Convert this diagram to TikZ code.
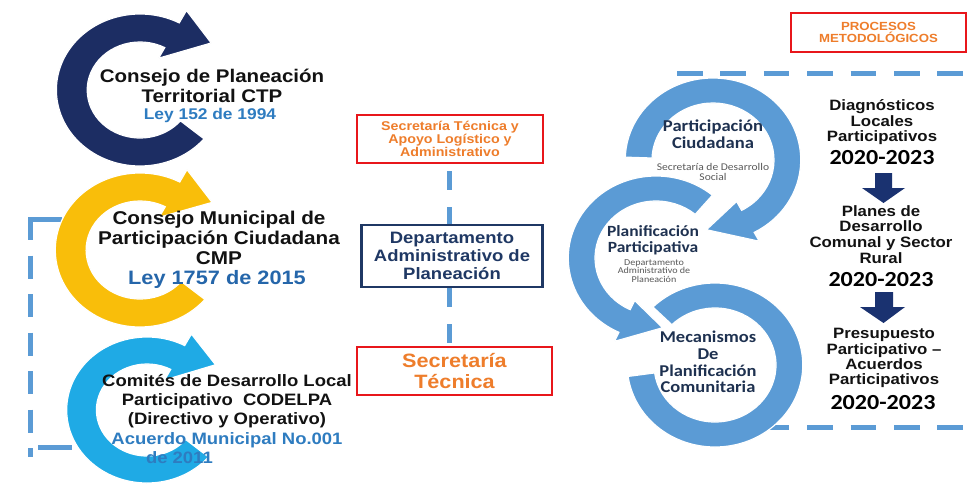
\documentclass[tikz,border=0pt]{standalone}
\usepackage{fontspec}
\setmainfont{Liberation Sans}
\newfontfamily\carl{Carlito}
\definecolor{navyc}{HTML}{1C2D63}
\definecolor{yelc}{HTML}{F9BE0A}
\definecolor{lbluc}{HTML}{1FAAE5}
\definecolor{ringc}{HTML}{5B9BD5}
\definecolor{redc}{HTML}{E8161B}
\definecolor{orc}{HTML}{EE7D2B}
\definecolor{dashc}{HTML}{5B9BD5}
\definecolor{arrc}{HTML}{1A3270}
\definecolor{lawc}{HTML}{2E7CC0}
\definecolor{lawd}{HTML}{2566AA}
\definecolor{deptc}{HTML}{1F3864}
\definecolor{ringtxt}{HTML}{1E3150}
\definecolor{graytxt}{HTML}{595959}
\newcommand\fs[2]{\fontsize{#1}{#2}\selectfont}
% #1 colour, #2 start angle, #3 arrow-base angle, #4 outer r, #5 inner r, #6 outer wing, #7 inner wing, #8 tip
\newcommand\carrow[8]{%
  \fill[#1, draw=white, line width=1.2pt] (#2:#4) arc[start angle=#2, end angle=#3, radius=#4]
    -- (#3:#6) -- (#8) -- (#3:#7) -- (#3:#5) arc[start angle=#3, end angle=#2, radius=#5] -- cycle;}
\begin{document}
\begin{tikzpicture}[x=1pt,y=-1pt,
  txt/.style={xscale=1.12, inner sep=0pt, align=center},
  bt/.style={txt, text=black!93},
  rbox/.style={xscale=1.12, draw=redc, line width=2.5pt, fill=white, inner sep=0pt, align=center, text=orc},
  dline/.style={dashc, line width=5pt}]
\fill[white] (0,0) rectangle (968,490);
\useasboundingbox (0,0) rectangle (968,490);

% left bracket
\coordinate (bra) at (62,219);
\coordinate (brb) at (30,219);
\coordinate (brc) at (30,217);
\coordinate (brd) at (30,457);
\coordinate (bre) at (38,447);
\coordinate (brf) at (72,447);
\draw[dline] (brb) -- (bra);
\draw[dline, dash pattern=on 23pt off 15.5pt] (brc) -- (brd);
\draw[dline] (bre) -- (brf);

% left circular arrows
\begin{scope}[shift={(140,90)},xscale=1.1,yscale=-1]
  \carrow{navyc}{-40}{-298}{76}{48}{90}{36}{36:80}
\end{scope}
\begin{scope}[shift={(140,250)},xscale=1.1,yscale=-1]
  \carrow{yelc}{-40}{-298}{77}{49}{91}{37}{36:81}
\end{scope}
\begin{scope}[shift={(147,410)},xscale=1.1,yscale=-1]
  \carrow{lbluc}{-40}{-298}{73}{46}{86}{34}{36:77}
\end{scope}

% left texts
\node[bt, font=\bfseries\fs{18.3}{20}] (ctp) at (212,86) {Consejo de Planeación\\Territorial CTP};
\node[txt, font=\bfseries\fs{15.5}{17}, text=lawc] (ctpl) at (210,115.5) {Ley 152 de 1994};
\node[bt, font=\bfseries\fs{18.5}{20}] (cmp) at (219,238) {Consejo Municipal de\\Participación Ciudadana\\CMP};
\node[txt, font=\bfseries\fs{19.4}{20}, text=lawd] (cmpl) at (217,279) {Ley 1757 de 2015};
\node[bt, font=\bfseries\fs{16.5}{18.8}] (cod) at (227,401) {Comités de Desarrollo Local\\Participativo\ \ CODELPA\\(Directivo y Operativo)};
\node[txt, font=\bfseries\fs{16.5}{18.8}, text=lawc] (codl) at (227,448) {Acuerdo Municipal No.001\\de 2011\hspace*{85pt}};

% centre column
\node[rbox, minimum width=166pt, minimum height=48pt, font=\bfseries\fs{12.7}{12.7}] (b1) at (450,139) {Secretaría Técnica y\\Apoyo Logístico y\\Administrativo};
\node[xscale=1.12, draw=deptc, line width=2.8pt, fill=white, minimum width=161pt, minimum height=62pt, inner sep=0pt, align=center, text=deptc, font=\bfseries\fs{16.5}{18}] (b2) at (452,256) {Departamento\\Administrativo de\\Planeación};
\node[rbox, minimum width=174pt, minimum height=48pt, font=\bfseries\fs{19.3}{21}] (b3) at (454.5,371) {Secretaría\\Técnica};
\coordinate (vx) at (449,0);
\draw[dline, dash pattern=on 19pt off 17pt, dash phase=29pt] (b1.south -| vx) -- (b2.north -| vx);
\draw[dline, dash pattern=on 19pt off 17pt] (b2.south -| vx) -- (b3.north -| vx);

% header box
\node[rbox, minimum width=156pt, minimum height=39pt, font=\bfseries\fs{11.8}{12.5}] (pm) at (878.5,32.5) {PROCESOS\\METODOLÓGICOS};

% right dashed lines
\coordinate (tl) at (677,73);
\coordinate (tr) at (968,73);
\coordinate (bl) at (677,427);
\coordinate (br) at (968,427);
\draw[dline, dash pattern=on 25.5pt off 17.9pt] (tl) -- (tr);
\draw[dline, dash pattern=on 25.5pt off 17.9pt] (bl) -- (br);

% right circular arrows
\begin{scope}[shift={(715,365)},xscale=1.07,yscale=-1]
  \fill[ringc, draw=white, line width=1.2pt] (135:82) arc[start angle=135, end angle=-172, radius=82]
    -- (-172:57) arc[start angle=-172, end angle=135, radius=57] -- cycle;
\end{scope}
\begin{scope}[shift={(656,258)},xscale=1.07,yscale=-1]
  \carrow{ringc}{50}{245}{82}{57}{92}{47}{275:70}
\end{scope}
\begin{scope}[shift={(713,160)},xscale=1.07,yscale=-1]
  \carrow{ringc}{178}{-62}{82}{57}{92}{47}{-95:70}
\end{scope}

\node[txt, font=\carl\bfseries\fs{16.6}{17.5}, text=ringtxt] (pc) at (713,134) {Participación\\Ciudadana};
\node[txt, font=\carl\fs{10.3}{10.5}, text=graytxt] (pcs) at (713,172) {Secretaría de Desarrollo\\Social};
\node[txt, font=\carl\bfseries\fs{15.6}{16.5}, text=ringtxt] (pp) at (653,240) {Planificación\\Participativa};
\node[txt, font=\carl\fs{9}{8.7}, text=graytxt] (pps) at (654,271) {Departamento\\Administrativo de\\Planeación};
\node[txt, font=\carl\bfseries\fs{16.5}{16.7}, text=ringtxt] (mp) at (708,362) {Mecanismos\\De\\Planificación\\Comunitaria};

% right column
\node[bt, font=\bfseries\fs{15}{15.5}] (d1) at (882,122.5) {Diagnósticos\\Locales\\Participativos};
\node[txt, font=\carl\bfseries\fs{21.5}{22}] (y1) at (882,157.5) {2020-2023};
\node[bt, font=\bfseries\fs{15}{15.8}] (d2) at (881,234.5) {Planes de\\Desarrollo\\Comunal y Sector\\Rural};
\node[txt, font=\carl\bfseries\fs{21.5}{22}] (y2) at (881,280) {2020-2023};
\node[bt, font=\bfseries\fs{15}{15.2}] (d3) at (884,358) {Presupuesto\\Participativo –\\Acuerdos\\Participativos};
\node[txt, font=\carl\bfseries\fs{21.5}{22}] (y3) at (883,403) {2020-2023};

\fill[arrc] (875,173) -- (892,173) -- (892,188) -- (905,188) -- (883.5,203) -- (862,188) -- (875,188) -- cycle;
\fill[arrc] (875,292) -- (893,292) -- (893,307) -- (905,307) -- (883.5,323) -- (860,307) -- (875,307) -- cycle;
\end{tikzpicture}
\end{document}
